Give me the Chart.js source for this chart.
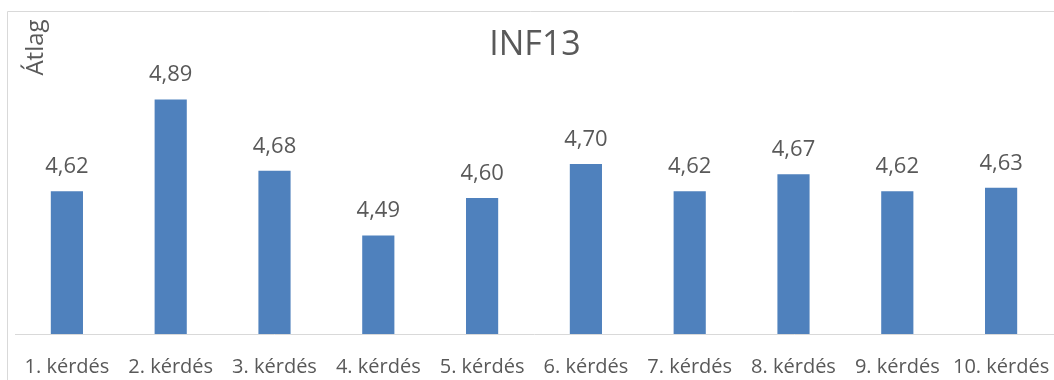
<!DOCTYPE html>
<html>
<head>
<meta charset="utf-8">
<script src="https://cdn.jsdelivr.net/npm/chart.js@4/dist/chart.umd.min.js"></script>
<style>
  html, body { margin: 0; padding: 0; background: #ffffff; }
  #wrap { width: 1054px; height: 380px; position: relative; }
</style>
</head>
<body>
<div id="wrap"><canvas id="c" width="1054" height="380"></canvas></div>
<script>
// Question labels and the average score for each
const categories = ['1. kérdés', '2. kérdés', '3. kérdés', '4. kérdés', '5. kérdés',
                    '6. kérdés', '7. kérdés', '8. kérdés', '9. kérdés', '10. kérdés'];
const averages = [4.62, 4.89, 4.68, 4.49, 4.60, 4.70, 4.62, 4.67, 4.62, 4.63];
const chartTitle = 'INF13';
const axisTitle = 'Átlag';

const FONT = '"Open Sans", "Noto Sans", sans-serif';
const TEXT = '#595959';

// Outer frame, title, rotated axis title and value labels
const decorations = {
  id: 'decorations',
  beforeDraw(chart) {
    const ctx = chart.ctx;
    ctx.save();
    ctx.strokeStyle = '#d9d9d9';
    ctx.lineWidth = 1;
    ctx.beginPath();
    ctx.moveTo(7.5, 380);
    ctx.lineTo(7.5, 11.5);
    ctx.lineTo(1054, 11.5);
    ctx.stroke();
    ctx.restore();
  },
  afterDatasetsDraw(chart) {
    const ctx = chart.ctx;
    ctx.save();
    ctx.fillStyle = TEXT;
    ctx.textAlign = 'center';
    ctx.textBaseline = 'alphabetic';
    ctx.font = '400 34px ' + FONT;
    ctx.fillText(chartTitle, 535, 55);

    ctx.save();
    ctx.translate(43, 47.5);
    ctx.rotate(-Math.PI / 2);
    ctx.font = '400 24px ' + FONT;
    ctx.fillText(axisTitle, 0, 0);
    ctx.restore();

    ctx.font = '400 22px ' + FONT;
    const meta = chart.getDatasetMeta(0);
    meta.data.forEach((bar, i) => {
      const label = averages[i].toFixed(2).replace('.', ',');
      ctx.fillText(label, bar.x, bar.y - 18);
    });
    ctx.restore();
  }
};

new Chart(document.getElementById('c'), {
  type: 'bar',
  data: {
    labels: categories,
    datasets: [{
      data: averages,
      backgroundColor: '#4f81bd',
      borderWidth: 0,
      categoryPercentage: 1.0,
      barPercentage: 0.31
    }]
  },
  options: {
    responsive: false,
    animation: false,
    layout: { padding: { left: 15, right: 1, top: 62, bottom: 0 } },
    plugins: {
      legend: { display: false },
      title: { display: false },
      tooltip: { enabled: false }
    },
    scales: {
      y: {
        display: false,
        min: 4.2,
        max: 5.0
      },
      x: {
        afterFit(scale) {
          scale.height = 46;
          scale.paddingLeft = 0;
          scale.paddingRight = 0;
        },
        grid: { display: false, drawTicks: false },
        border: { color: '#d9d9d9', width: 1 },
        ticks: {
          color: TEXT,
          font: { family: FONT, size: 20 },
          padding: 21,
          maxRotation: 0,
          autoSkip: false
        }
      }
    }
  },
  plugins: [decorations]
});
</script>
</body>
</html>
